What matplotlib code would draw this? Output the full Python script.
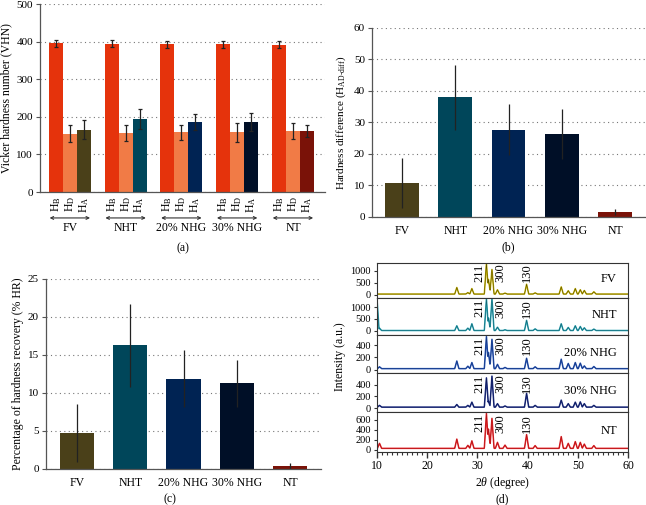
import numpy as np
import matplotlib
matplotlib.use('Agg')
import matplotlib.pyplot as plt
import matplotlib.transforms as mtransforms

plt.rcParams['font.family'] = ['Liberation Serif', 'DejaVu Serif']
plt.rcParams['mathtext.fontset'] = 'custom'
plt.rcParams['mathtext.rm'] = 'Liberation Serif'
plt.rcParams['mathtext.it'] = 'Liberation Serif:italic'

# ---------------- data ----------------
samples = ['FV', 'NHT', '20% NHG', '30% NHG', 'NT']
sub_labels = ['H$_\\mathregular{B}$', 'H$_\\mathregular{D}$', 'H$_\\mathregular{A}$']
hb = [395, 394, 393, 393, 392]
hb_err = [10, 9, 9, 9, 10]
hd = [155, 157, 159, 159, 162]
hd_err = [22, 21, 20, 25, 21]
ha = [166, 195, 187, 185, 163]
ha_err = [25, 27, 21, 24, 16]
hdiff = [10.8, 38.0, 27.7, 26.3, 1.5]
hdiff_err = [7.8, 10.4, 8.1, 7.9, 1.0]
hr = [4.7, 16.3, 11.9, 11.3, 0.4]
hr_err = [3.8, 5.45, 3.7, 3.1, 0.35]

# XRD peaks (2theta, deg) and intensities
peak_pos = [10.0, 10.5, 25.9, 28.1, 28.9, 31.8, 32.2, 32.9, 34.0, 35.5, 39.8,
            41.5, 46.7, 48.1, 49.5, 50.5, 51.3, 53.2]
xrd_FV = [0, 0, 275, 60, 230, 1300, 615, 1030, 180, 40, 410, 50, 300, 140, 230, 180, 150, 95]
xrd_NHT = [1340, 100, 200, 100, 285, 1340, 530, 1340, 140, 30, 430, 70, 285, 130, 200, 170, 115, 60]
xrd_20 = [0, 30, 125, 40, 100, 525, 265, 480, 70, 20, 170, 30, 155, 85, 100, 90, 45, 35]
xrd_30 = [0, 30, 45, 30, 85, 500, 100, 530, 60, 20, 235, 30, 120, 60, 85, 90, 60, 30]
xrd_NT = [0, 100, 185, 60, 150, 700, 385, 600, 120, 65, 275, 55, 235, 100, 135, 120, 85, 55]
xrd_base = [30, 10, 15, 15, 25]
xrd_ylim = [(-135, 1330), (-180, 1385), (-56, 565), (-68, 598), (-48, 752)]
xrd_yticks = [[0, 500, 1000], [0, 500, 1000], [0, 200, 400], [0, 200, 400], [0, 200, 400, 600]]
peak_labels = [('211', 30.5), ('300', 34.5), ('130', 39.8)]

# colours
c_hb = '#E5330C'
c_hd = '#F17B46'
c_s = ['#4A4019', '#00465A', '#002353', '#000F27', '#7A1208']
c_xrd = ['#C8B400', '#2AA5B5', '#2452B5', '#1C2D85', '#E8252A']
c_xrd_dark = ['#3A3200', '#0E4F5C', '#12306F', '#0C164A', '#9A1010']

spine_c = '#555555'
fs = 8

fig = plt.figure(figsize=(6.46, 5.05), dpi=100)


def style_bar_axes(ax):
    for s in ['top', 'right']:
        ax.spines[s].set_visible(False)
    for s in ['left', 'bottom']:
        ax.spines[s].set_color(spine_c)
        ax.spines[s].set_linewidth(0.9)
    ax.yaxis.grid(True, linestyle=(0, (1, 3)), color='#777777', linewidth=0.8)
    ax.set_axisbelow(True)
    ax.tick_params(axis='y', labelsize=fs, length=3, color=spine_c, pad=2)
    ax.tick_params(axis='x', length=0, labelsize=fs)


# ---------------- (a) ----------------
axa = fig.add_axes([40 / 646, 1 - 192 / 505, 285 / 646, 188 / 505])
xb = [4 * i for i in range(5)]
xd = [4 * i + 1 for i in range(5)]
xa = [4 * i + 2 for i in range(5)]
ekw = dict(ecolor='#222222', elinewidth=0.9, capsize=1.5, capthick=0.9)
axa.bar(xb, hb, width=1.0, color=c_hb, yerr=hb_err, error_kw=ekw)
axa.bar(xd, hd, width=1.0, color=c_hd, yerr=hd_err, error_kw=ekw)
axa.bar(xa, ha, width=1.0, color=c_s, yerr=ha_err, error_kw=ekw)
axa.set_xlim(-1.14, 19.3)
axa.set_ylim(0, 500)
axa.set_yticks([0, 100, 200, 300, 400, 500])
style_bar_axes(axa)
ticks = []
labels = []
for i in range(5):
    for j in range(3):
        ticks.append(4 * i + j)
        labels.append(sub_labels[j])
axa.set_xticks(ticks)
axa.set_xticklabels(labels, rotation=90, fontsize=fs + 0.5)
axa.tick_params(axis='x', pad=3)
axa.set_ylabel('Vicker hardness number (VHN)', fontsize=fs + 0.5, labelpad=3)
trans = mtransforms.blended_transform_factory(axa.transData, axa.transAxes)
for i, name in enumerate(samples):
    axa.annotate('', xy=(4 * i - 0.45, -0.138), xytext=(4 * i + 2.45, -0.138),
                 xycoords=trans, textcoords=trans, annotation_clip=False,
                 arrowprops=dict(arrowstyle='<->', lw=0.8, color='#333333',
                                 shrinkA=0, shrinkB=0, mutation_scale=5))
    axa.text(4 * i + 1, -0.192, name, transform=trans, ha='center', va='center',
             fontsize=fs + 0.5)
fig.text(183 / 646, 1 - 248 / 505, '(a)', ha='center', va='center', fontsize=fs + 0.5)

# ---------------- (b) ----------------
ekw2 = dict(ecolor='#222222', elinewidth=0.9, capsize=0)
axb = fig.add_axes([372 / 646, 1 - 217 / 505, 273 / 646, 189 / 505])
xs = np.arange(5)
axb.bar(xs, hdiff, width=0.63, color=c_s, yerr=hdiff_err, error_kw=ekw2)
axb.set_xlim(-0.56, 4.56)
axb.set_ylim(0, 60)
axb.set_yticks([0, 10, 20, 30, 40, 50, 60])
style_bar_axes(axb)
axb.set_xticks(xs)
axb.set_xticklabels(samples, fontsize=fs + 0.5)
axb.tick_params(axis='x', pad=6)
axb.set_ylabel('Hardness difference (H$_\\mathregular{AD\u2010diff}$)', fontsize=fs, labelpad=4)
fig.text(508 / 646, 1 - 247 / 505, '(b)', ha='center', va='center', fontsize=fs + 0.5)

# ---------------- (c) ----------------
axc = fig.add_axes([46 / 646, 1 - 469 / 505, 275 / 646, 190 / 505])
axc.bar(xs, hr, width=0.64, color=c_s, yerr=hr_err, error_kw=ekw2)
axc.set_xlim(-0.58, 4.58)
axc.set_ylim(0, 25)
axc.set_yticks([0, 5, 10, 15, 20, 25])
style_bar_axes(axc)
axc.set_xticks(xs)
axc.set_xticklabels(samples, fontsize=fs + 0.5)
axc.tick_params(axis='x', pad=6)
axc.set_ylabel('Percentage of hardness recovery (% HR)', fontsize=fs + 0.5, labelpad=3)
fig.text(170 / 646, 1 - 499 / 505, '(c)', ha='center', va='center', fontsize=fs + 0.5)

# ---------------- (d) ----------------
xrd_all = [xrd_FV, xrd_NHT, xrd_20, xrd_30, xrd_NT]
bounds = [263, 298, 335, 373, 412, 452]
x_grid = np.arange(10.0, 60.001, 0.05)
half_w = 0.42
axes_d = []
for k in range(5):
    top, bot = bounds[k], bounds[k + 1]
    ax = fig.add_axes([377 / 646, 1 - bot / 505, 251 / 646, (bot - top) / 505])
    axes_d.append(ax)
    tri = np.array([h * np.clip(1 - np.abs(x_grid - p) / half_w, 0, None)
                    for p, h in zip(peak_pos, xrd_all[k])])
    y = xrd_base[k] + tri.max(axis=0)
    ax.plot(x_grid, y, color=c_xrd[k], lw=1.1)
    ax.plot(x_grid, y, color=c_xrd_dark[k], lw=0.4, alpha=0.8)
    ax.set_xlim(10, 60)
    ax.set_ylim(*xrd_ylim[k])
    ax.set_yticks(xrd_yticks[k])
    ax.tick_params(axis='y', labelsize=7.5, length=2.5, pad=2, color='#333333')
    for s in ax.spines.values():
        s.set_color('#333333')
        s.set_linewidth(0.8)
    if k < 4:
        ax.tick_params(axis='x', bottom=False, labelbottom=False)
    else:
        ax.set_xticks([10, 20, 30, 40, 50, 60])
        ax.set_xticks(np.arange(10, 61, 1), minor=True)
        ax.tick_params(axis='x', which='major', length=4, width=1.0, labelsize=fs + 0.5,
                       pad=2, color='#333333')
        ax.tick_params(axis='x', which='minor', length=2.5, width=0.8, color='#333333')
        ax.set_xlabel('2$\\it{\\theta}$ (degree)', fontsize=fs + 0.5, labelpad=2)
    ax.text(57.8, 0.53, samples[k], transform=mtransforms.blended_transform_factory(
        ax.transData, ax.transAxes), ha='right', va='center', fontsize=fs + 1)
    for lab, px in peak_labels:
        ax.text(px, 0.72, lab, transform=mtransforms.blended_transform_factory(
            ax.transData, ax.transAxes), rotation=90, ha='center', va='center',
            fontsize=fs + 1)

fig.text(340 / 646, 1 - 357 / 505, 'Intensity (a.u.)', rotation=90, ha='center',
         va='center', fontsize=fs + 0.5)
fig.text(502 / 646, 1 - 499 / 505, '(d)', ha='center', va='center', fontsize=fs + 0.5)

fig.savefig('out.png', dpi=100)
